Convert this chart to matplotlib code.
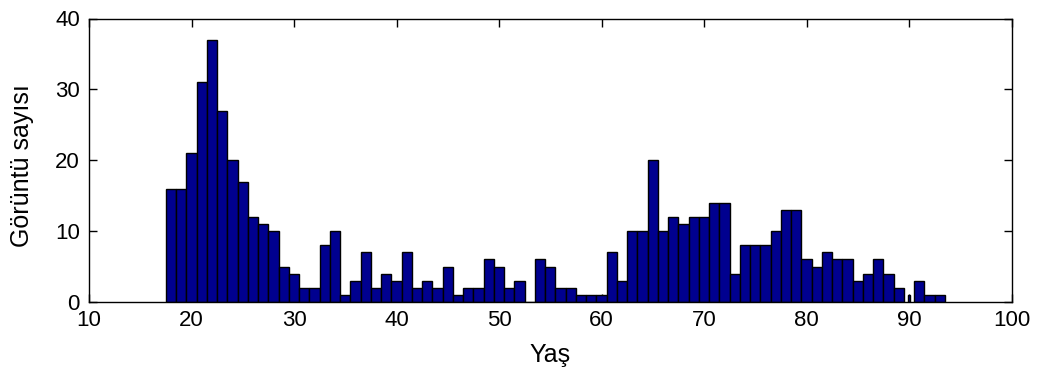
import matplotlib
matplotlib.use("Agg")
import matplotlib.pyplot as plt

plt.rcParams['font.family'] = ['Liberation Sans', 'DejaVu Sans']

# Age histogram: one bin per year
ages = list(range(18, 94))
counts = [16, 16, 21, 31, 37, 27, 20, 17, 12, 11,   # 18-27
          10, 5, 4, 2, 2, 8, 10, 1, 3, 7,           # 28-37
          2, 4, 3, 7, 2, 3, 2, 5, 1, 2,             # 38-47
          2, 6, 5, 2, 3, 0, 6, 5, 2, 2,             # 48-57
          1, 1, 1, 7, 3, 10, 10, 20, 10, 12,        # 58-67
          11, 12, 12, 14, 14, 4, 8, 8, 8, 10,       # 68-77
          13, 13, 6, 5, 7, 6, 6, 3, 4, 6,           # 78-87
          4, 2, 1, 3, 1, 1]                         # 88-93

xticks = [10, 20, 30, 40, 50, 60, 70, 80, 90, 100]
yticks = [0, 10, 20, 30, 40]
xlabel = "Yaş"
ylabel = "Görüntü sayısı"

fig = plt.figure(figsize=(10.41, 3.79), dpi=100)
ax = fig.add_axes([89 / 1041, 1 - 302 / 379, (1011.5 - 89) / 1041, (302 - 18.5) / 379])

# the single-count bin at 90 is drawn as a narrow sliver
widths = [0.12 if a == 90 else 1.0 for a in ages]
ax.bar(ages, counts, width=widths, align='center', color='#00008F',
       edgecolor='black', linewidth=1.0, zorder=2)

ax.set_xlim(10, 100)
ax.set_ylim(0, 40)
ax.set_xticks(xticks)
ax.set_yticks(yticks)
ax.tick_params(direction='in', length=6, width=1, top=True, right=True,
               labelsize=16, colors='black')
ax.tick_params(axis='x', pad=6)
ax.tick_params(axis='y', pad=6.5)
for s in ax.spines.values():
    s.set_linewidth(1.0)
ax.set_xlabel(xlabel, fontsize=18)
ax.set_ylabel(ylabel, fontsize=18)
ax.xaxis.set_label_coords(0.5, -0.145)
ax.yaxis.set_label_coords(-0.060, 0.482)

fig.savefig("out.png", dpi=100)
